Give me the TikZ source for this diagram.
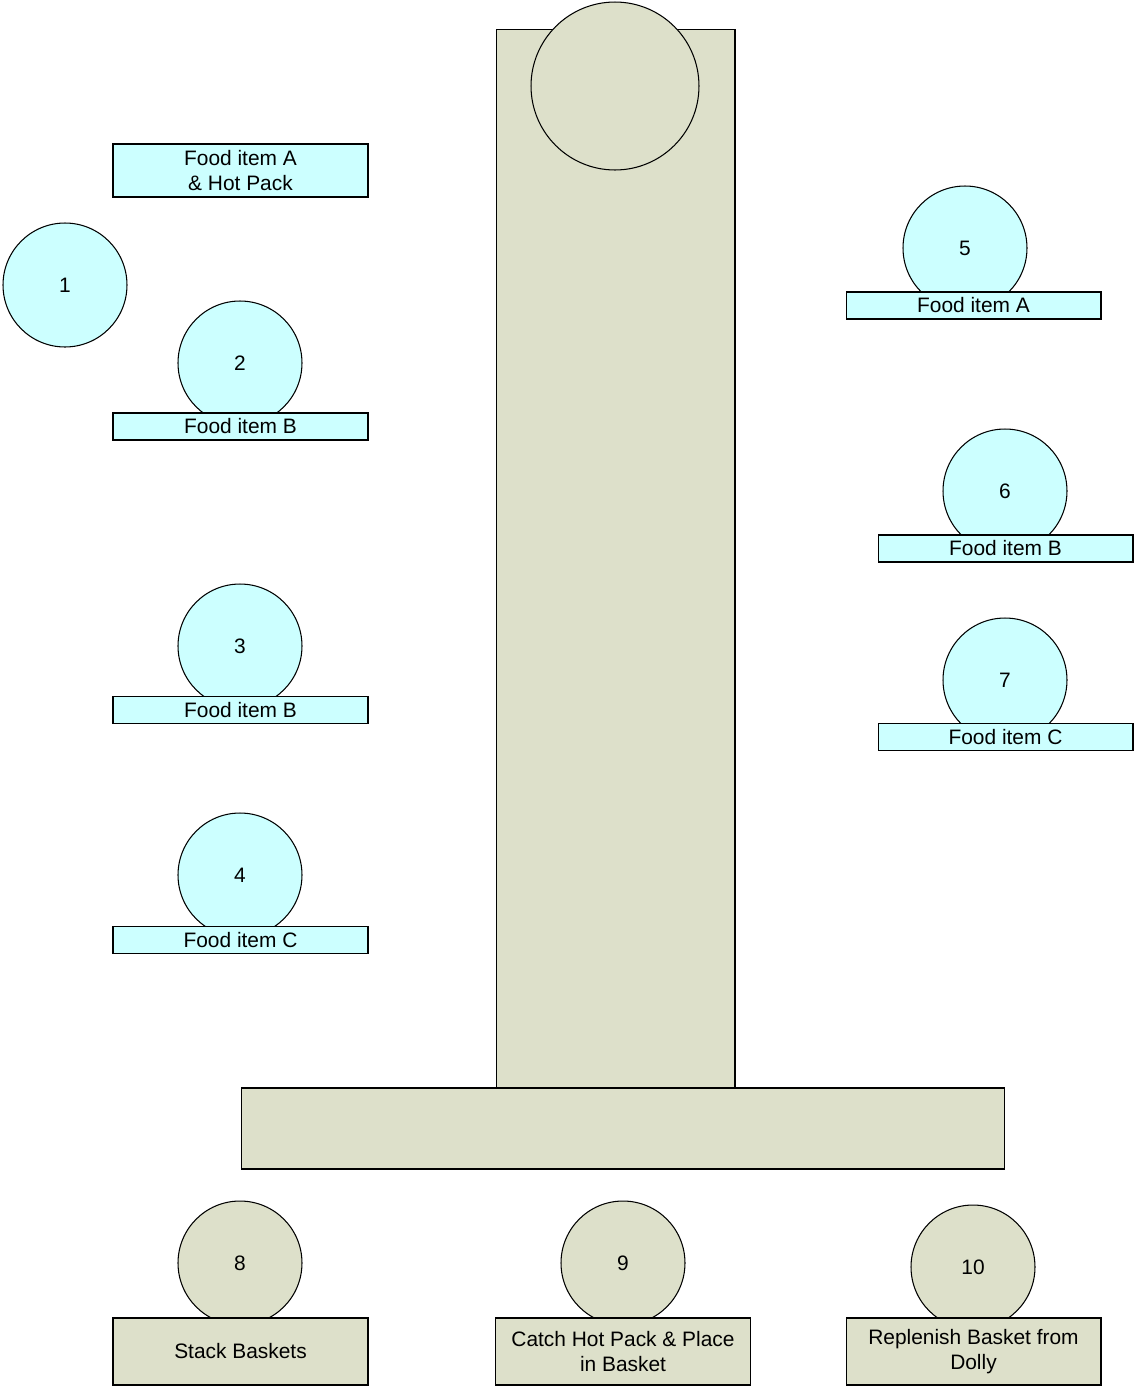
\documentclass[tikz,border=0pt]{standalone}
\usepackage{fontspec}
\setmainfont{Liberation Sans}
\definecolor{aqua}{RGB}{204,255,255}
\definecolor{sage}{RGB}{221,224,202}
\begin{document}
\begin{tikzpicture}[
                    x=0.02cm, y=-0.02cm,
                    font=\fontsize{11.9}{14.2}\selectfont,
                    station/.style={circle, draw, line width=0.6pt, fill=aqua, inner sep=0pt, minimum size=2.48cm},
                    post/.style={station, fill=sage},
                    tag/.style={draw, line width=0.6pt, fill=aqua, inner sep=0pt, minimum width=5.1cm, minimum height=0.54cm, align=center},
                    task/.style={tag, fill=sage, minimum height=1.34cm},
                    belt/.style={draw, line width=0.6pt, fill=sage, inner sep=0pt}
                ]
                \useasboundingbox (0,0) rectangle (1136,1387);

                % conveyor
                \node[belt, minimum width=4.78cm, minimum height=21.18cm] (column) at (615.5,558.5) {};
                \node[belt, minimum width=15.28cm, minimum height=1.62cm] (base) at (623,1128.5) {};
                \node[post, minimum size=3.36cm] (top) at (615,86) {};

                % left side
                \node[tag, minimum height=1.06cm] (foodhot) at (240.5,170.5) {Food item A\\ \& Hot Pack};
                \node[station] (st1) at (65,285) {1};

                \node[station] (st2) at (240,363) {2};
                \node[tag] (lbl2) at (240.5,426.5) {Food item B};

                \node[station] (st3) at (240,646) {3};
                \node[tag] (lbl3) at (240.5,710) {Food item B};

                \node[station] (st4) at (240,875) {4};
                \node[tag] (lbl4) at (240.5,940) {Food item C};

                % right side
                \node[station] (st5) at (965,248) {5};
                \node[tag] (lbl5) at (973.5,305.5) {Food item A};

                \node[station] (st6) at (1005,491) {6};
                \node[tag] (lbl6) at (1005.5,548.5) {Food item B};

                \node[station] (st7) at (1005,680) {7};
                \node[tag] (lbl7) at (1005.5,737) {Food item C};

                % packing
                \node[post] (st8) at (240,1263) {8};
                \node[task] (lbl8) at (240.5,1351.5) {Stack Baskets};

                \node[post] (st9) at (623,1263) {9};
                \node[task] (lbl9) at (623,1351.5) {Catch Hot Pack \& Place\\in Basket};

                \node[post] (st10) at (973,1267) {10};
                \node[task] (lbl10) at (973.5,1351.5) {Replenish Basket from\\Dolly};

            \end{tikzpicture}
\end{document}
